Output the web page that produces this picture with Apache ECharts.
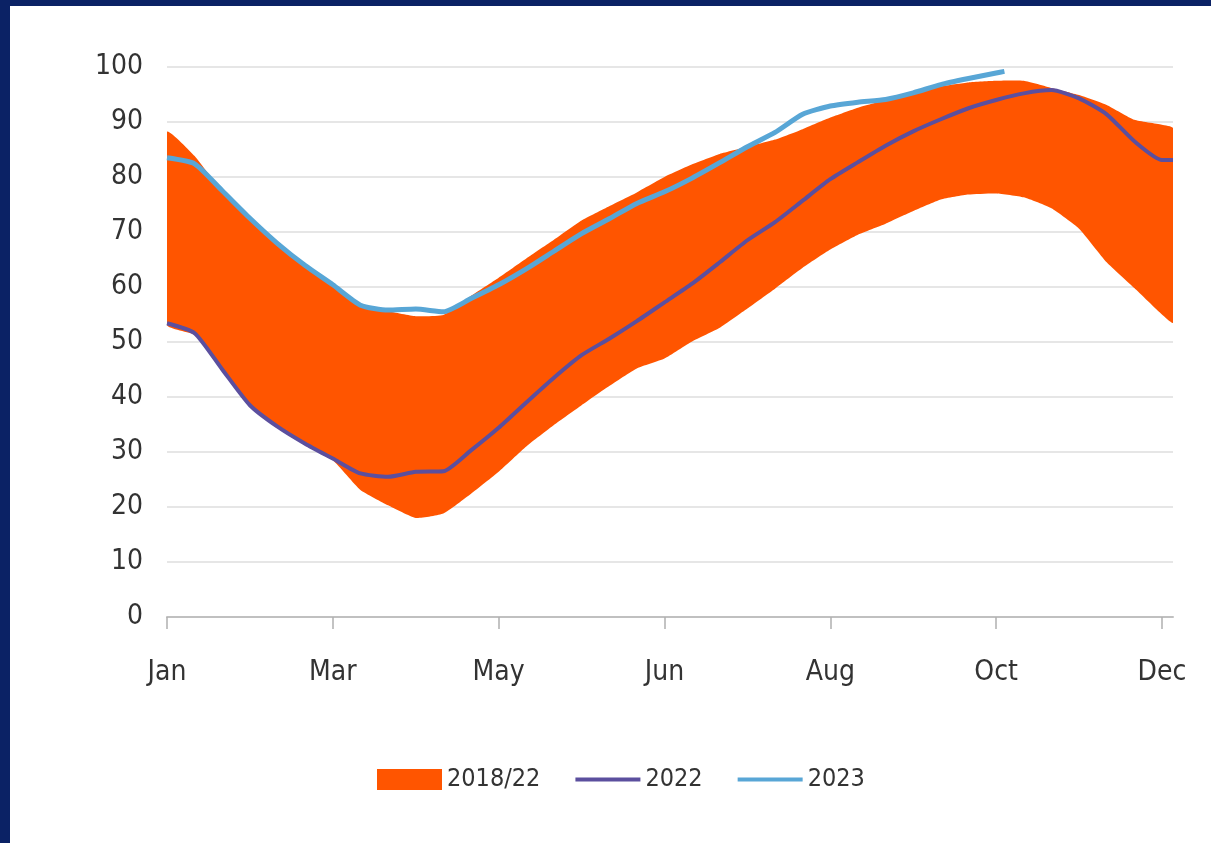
<!DOCTYPE html>
<html>
<head>
<meta charset="utf-8">
<script src="https://cdn.jsdelivr.net/npm/echarts@6/dist/echarts.min.js"></script>
<style>
  html, body { margin: 0; padding: 0; width: 1211px; height: 843px; background: #0b2265; overflow: hidden; }
  #chart { position: absolute; left: 10px; top: 6px; width: 1201px; height: 837px; background: #ffffff; }
</style>
</head>
<body>
<div id="chart"></div>
<script>
// Day of year (0 = 1 Jan) for each sample
const days = [0, 10, 20, 30, 40, 50, 60, 70, 80, 90, 100, 110, 120, 130, 140, 150, 160, 170, 180,
              190, 200, 210, 220, 230, 240, 250, 260, 270, 280, 290, 300, 310, 320, 330, 340, 350, 360, 364];
const days2023 = [0, 10, 20, 30, 40, 50, 60, 70, 80, 90, 100, 110, 120, 130, 140, 150, 160, 170, 180,
                  190, 200, 210, 220, 230, 240, 250, 260, 270, 280, 290, 300, 303];

// 2018/22 range: minimum and maximum
const rangeLow = [53.1, 51.3, 44.7, 38.2, 34.3, 31.2, 28.5, 23.1, 20.3, 18.0, 18.8, 22.4, 26.4, 31.0, 34.9, 38.5, 42.0, 45.2, 47.0,
                  50.1, 52.6, 56.1, 59.7, 63.5, 66.8, 69.5, 71.5, 73.8, 75.9, 76.8, 77.0, 76.3, 74.3, 70.6, 64.5, 59.8, 55.0, 53.5];
const rangeHigh = [88.2, 83.8, 77.3, 72.3, 67.7, 63.7, 60.1, 56.6, 55.6, 54.7, 54.9, 58.4, 61.7, 65.2, 68.6, 72.1, 74.7, 77.2, 80.0,
                   82.3, 84.2, 85.5, 86.8, 88.7, 90.8, 92.6, 94.0, 95.4, 96.5, 97.2, 97.5, 97.5, 96.2, 94.9, 93.1, 90.4, 89.5, 88.9];

const values2022 = [53.4, 51.6, 45.0, 38.5, 34.6, 31.5, 28.8, 26.1, 25.5, 26.4, 26.5, 30.3, 34.4, 39.0, 43.5, 47.6, 50.6, 53.8, 57.2,
                    60.6, 64.5, 68.5, 71.8, 75.7, 79.6, 82.7, 85.7, 88.3, 90.5, 92.5, 94.0, 95.2, 95.8, 94.3, 91.4, 86.5, 83.1, 83.1];
const values2023 = [83.5, 82.4, 77.5, 72.5, 67.9, 63.9, 60.4, 56.7, 55.8, 56.0, 55.5, 57.9, 60.4, 63.3, 66.5, 69.7, 72.4, 75.2, 77.3,
                    79.8, 82.6, 85.5, 88.1, 91.4, 92.9, 93.6, 94.1, 95.3, 96.8, 97.9, 98.9, 99.2];

// Month tick positions (every 60 days) and their labels
const tickDays = [0, 60, 120, 180, 240, 300, 360];
const tickLabels = ['Jan', 'Mar', 'May', 'Jun', 'Aug', 'Oct', 'Dec'];

const FONT = "'DejaVu Sans Condensed', 'DejaVu Sans', sans-serif";
const ORANGE = '#ff5500';
const PURPLE = '#5b4f9e';
const BLUE = '#58a6d6';

const pairs = (xs, ys) => ys.map((v, i) => [xs[i], v]);

// Min-max band: one polygon running along the maxima and back along the minima
function renderRange(params, api) {
  if (params.dataIndex !== 0) return null;
  const pts = [];
  for (let i = 0; i < days.length; i++) pts.push(api.coord([days[i], rangeHigh[i]]));
  for (let i = days.length - 1; i >= 0; i--) pts.push(api.coord([days[i], rangeLow[i]]));
  return {
    type: 'polygon',
    shape: { points: pts, smooth: 0.15 },
    style: { fill: ORANGE }
  };
}

const chart = echarts.init(document.getElementById('chart'), null, { renderer: 'canvas' });
chart.setOption({
  animation: false,
  backgroundColor: '#ffffff',
  grid: { left: 157, right: 38, top: 61, bottom: 226, containLabel: false, outerBoundsMode: 'none' },
  legend: {
    left: 362, top: 756, orient: 'horizontal',
    itemWidth: 65, itemHeight: 21, itemGap: 33,
    textStyle: { fontFamily: FONT, fontSize: 25, color: '#333333' },
    data: [
      { name: '2018/22', icon: 'rect', itemStyle: { color: ORANGE, opacity: 1 } },
      { name: '2022', itemStyle: { opacity: 0 }, lineStyle: { width: 4, color: PURPLE } },
      { name: '2023', itemStyle: { opacity: 0 }, lineStyle: { width: 4, color: BLUE } }
    ],
    selectedMode: false
  },
  xAxis: {
    type: 'value', min: 0, max: 364, interval: 60,
    axisLine: { show: true, lineStyle: { color: '#c0c0c0', width: 2 } },
    axisTick: { show: true, length: 12, customValues: tickDays, lineStyle: { color: '#b0b0b0', width: 1.5 } },
    axisLabel: {
      customValues: tickDays, margin: 42,
      fontFamily: FONT, fontSize: 28, color: '#333333',
      formatter: v => tickLabels[tickDays.indexOf(v)] || ''
    },
    splitLine: { show: false }
  },
  yAxis: {
    type: 'value', min: 0, max: 100, interval: 10,
    axisLine: { show: false }, axisTick: { show: false },
    axisLabel: { margin: 24, fontFamily: FONT, fontSize: 28, color: '#333333' },
    splitLine: { show: true, lineStyle: { color: '#e6e6e6', width: 2 } }
  },
  series: [
    {
      name: '2018/22', type: 'custom', color: ORANGE, silent: true,
      data: days.map((d, i) => [d, rangeLow[i], rangeHigh[i]]),
      encode: { x: 0, y: [1, 2] },
      renderItem: renderRange, clip: true, z: 2
    },
    {
      name: '2022', type: 'line', color: PURPLE,
      data: pairs(days, values2022), symbol: 'none', smooth: 0.2,
      lineStyle: { color: PURPLE, width: 4 }, z: 3
    },
    {
      name: '2023', type: 'line', color: BLUE,
      data: pairs(days2023, values2023), symbol: 'none', smooth: 0.2,
      lineStyle: { color: BLUE, width: 5 }, z: 4
    }
  ]
});
</script>
</body>
</html>
